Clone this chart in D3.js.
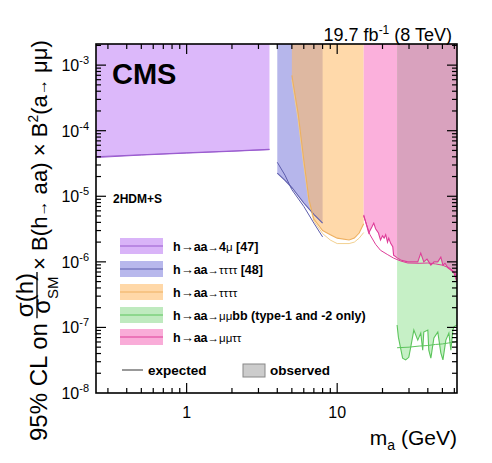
<!DOCTYPE html>
<html><head><meta charset="utf-8">
<script src="https://cdn.jsdelivr.net/npm/d3@7"></script>
<style>
body{margin:0;background:#fff}
svg{display:block}
text{font-family:"Liberation Sans",Arial,Helvetica,sans-serif}
</style>
</head><body>
<svg id="c" width="492" height="463"></svg>
<script>
// ---------- data ----------
const xDomain = [0.25, 62.5];
const yDomain = [1e-8, 2.1e-3];
const xTickLabels = [1, 10];
const yTickExponents = [-8, -7, -6, -5, -4, -3];

// h->aa->4mu [47]
const mass4mu = [0.25, 0.5, 1, 2, 3.55];
const obs4mu  = [4.0e-5, 4.3e-5, 4.6e-5, 4.9e-5, 5.2e-5];
const exp4mu  = [3.9e-5, 4.25e-5, 4.55e-5, 4.85e-5, 5.15e-5];

// h->aa->tautautautau [48]
const massTau48 = [4.0, 4.5, 5.0, 6.0, 7.0, 8.0];
const obsTau48  = [2.26e-5, 1.75e-5, 1.36e-5, 7.9e-6, 5.3e-6, 3.9e-6];
const expTau48  = [3.3e-5, 2.1e-5, 1.26e-5, 7.0e-6, 3.9e-6, 2.4e-6];

// h->aa->tautautautau (this)
const massTau = [5.0, 5.5, 6.0, 6.5, 7.0, 8.0, 9.0, 10.0, 12.0, 13.0, 14.0, 15.0];
const obsTau  = [7.0e-4, 1.85e-4, 3.6e-5, 8.8e-6, 4.5e-6, 3.0e-6, 2.6e-6, 2.3e-6, 2.15e-6, 2.3e-6, 2.75e-6, 3.8e-6];
const expTau  = [6.0e-4, 1.5e-4, 3.0e-5, 8.0e-6, 4.2e-6, 2.7e-6, 2.15e-6, 1.9e-6, 1.9e-6, 2.0e-6, 2.3e-6, 2.8e-6];

// h->aa->mumutautau
const massMuTau = [15, 16.2, 17.0, 17.5, 18.0, 18.8, 19.4, 20.0, 20.5, 21.0, 21.6, 22.0, 22.7, 23.4, 23.7, 25.2, 26.4, 29.4, 34.3, 35.9, 37.6, 39.5, 41.9, 44, 46.6, 48.8, 50.4, 52, 54.4, 56.9, 59.6, 62.5];
const obsMuTau  = [5.2e-6, 2.75e-6, 3.4e-6, 3.9e-6, 3.2e-6, 2.75e-6, 2.15e-6, 2.5e-6, 2.3e-6, 2.6e-6, 2.0e-6, 2.3e-6, 1.9e-6, 1.7e-6, 1.26e-6, 1.14e-6, 1.07e-6, 1.0e-6, 1.0e-6, 1.36e-6, 1.0e-6, 1.1e-6, 8.9e-7, 1.0e-6, 1.0e-6, 1.18e-6, 8.9e-7, 9.5e-7, 8.1e-7, 7.5e-7, 6.8e-7, 4.9e-7];
const massMuTauExp = [15, 16.5, 18, 19.4, 21.5, 23.7, 26.4, 29.4, 35, 40, 45, 50, 56, 60, 62.5];
const expMuTau     = [5.0e-6, 2.6e-6, 1.85e-6, 1.5e-6, 1.3e-6, 1.14e-6, 1.03e-6, 9.6e-7, 9.5e-7, 9.6e-7, 9.3e-7, 8.9e-7, 8.0e-7, 7.0e-7, 5.9e-7];

// h->aa->mumubb (type-1 and -2 only)
const massMuB = [25, 25.5, 27.2, 28.5, 29.9, 30.8, 32.3, 34.3, 35.9, 37.0, 37.6, 40.0, 40.6, 41.9, 43.9, 46.6, 48.8, 50.4, 52.7, 55.2, 56.9, 58.7, 59.6, 62.5];
const obsMuB  = [1.09e-7, 7.1e-8, 3.4e-8, 3.2e-8, 3.5e-8, 5.0e-8, 9.1e-8, 6.4e-8, 8.2e-8, 4.5e-8, 8.5e-8, 9.1e-8, 4.5e-8, 3.4e-8, 6.9e-8, 8.5e-8, 4.1e-8, 3.2e-8, 6.4e-8, 8.2e-8, 4.5e-8, 9.1e-8, 1.02e-7, 1.09e-7];
const massMuBExp = [25, 30, 35, 40, 45, 50, 55, 60, 62.5];
const expMuB     = [4.9e-8, 5.0e-8, 5.2e-8, 5.3e-8, 5.5e-8, 5.6e-8, 5.8e-8, 6.0e-8, 6.2e-8];

const legendLabels = [
  ["h", "→", "aa", "→", "4", "μ", " [47]"],
  ["h", "→", "aa", "→", "ττττ", "", " [48]"],
  ["h", "→", "aa", "→", "ττττ", "", ""],
  ["h", "→", "aa", "→", "μμ", "bb (type-1 and -2 only)", ""],
  ["h", "→", "aa", "→", "μμττ", "", ""]
];

// ---------- styles ----------
const C = {
  purple: {fill: "#dcb8fa", line: "#9a5ccf", box: "#d9b4f8"},
  blue:   {fill: "rgb(110,110,215)", op: 0.5, line: "#5c5cac", box: "#b8b8ec"},
  orange: {fill: "rgb(255,185,100)", op: 0.55, line: "#eeb060", exp: "#f2d090", box: "#ffd8a8"},
  green:  {fill: "#c6f0c6", line: "#5cc45c", box: "#bfeabf"},
  pink:   {fill: "#fbb0dc", line: "#de3c98", box: "#f9acd8"},
  mauve:  "#d9a2be"
};

const L = 96, R = 457, T = 44, B = 393;
const svg = d3.select("#c");
const x = d3.scaleLog().domain(xDomain).range([L, R]);
const y = d3.scaleLog().domain(yDomain).range([B, T]);

const zip = (m, v) => m.map((d, i) => [d, v[i]]);
const area = d3.area().x(d => x(d[0])).y0(T).y1(d => y(d[1]));
const line = d3.line().x(d => x(d[0])).y(d => y(d[1]));

const clip = svg.append("defs").append("clipPath").attr("id", "pc");
clip.append("rect").attr("x", L).attr("y", T).attr("width", R - L).attr("height", B - T);
const plot = svg.append("g").attr("clip-path", "url(#pc)");

// fills
plot.append("path").attr("d", area(zip(mass4mu, obs4mu))).attr("fill", C.purple.fill);
plot.append("path").attr("d", area(zip(massTau48, obsTau48))).attr("fill", C.blue.fill).attr("fill-opacity", C.blue.op);
plot.append("path").attr("d", area(zip(massTau, obsTau))).attr("fill", C.orange.fill).attr("fill-opacity", C.orange.op);
plot.append("path").attr("d", area(zip(massMuTau, obsMuTau))).attr("fill", C.pink.fill);
plot.append("path").attr("d", area(zip(massMuB, obsMuB))).attr("fill", C.green.fill);
// overlap of mumutautau and mumubb exclusions
const muBmin = d3.min(massMuB);
const overlap = zip(massMuTau, obsMuTau).filter(d => d[0] >= muBmin);
overlap.unshift([muBmin, zip(massMuTau, obsMuTau).reduce((a, d) => d[0] <= muBmin ? d[1] : a, obsMuTau[0])]);
plot.append("path").attr("d", area(overlap)).attr("fill", C.mauve);

// expected lines
[
  [zip(mass4mu, exp4mu), C.purple.line],
  [zip(massTau48, expTau48), C.blue.line],
  [zip(massTau, expTau), C.orange.exp],
  [zip(massMuTauExp, expMuTau), C.pink.line],
  [zip(massMuBExp, expMuB), C.green.line]
].forEach(([d, c]) => plot.append("path").attr("d", line(d)).attr("fill", "none").attr("stroke", c).attr("stroke-width", 1));
// observed lines
[
  [zip(mass4mu, obs4mu), C.purple.line],
  [zip(massTau48, obsTau48), C.blue.line],
  [zip(massTau, obsTau), C.orange.line],
  [zip(massMuTau, obsMuTau), C.pink.line],
  [zip(massMuB, obsMuB), C.green.line]
].forEach(([d, c]) => plot.append("path").attr("d", line(d)).attr("fill", "none").attr("stroke", c).attr("stroke-width", 1.1));

// ---------- axes ----------
const ax = svg.append("g").attr("stroke", "#000");
const isMajor = v => Math.abs(Math.log10(v) - Math.round(Math.log10(v))) < 1e-9;
x.ticks().forEach(v => {
  const px = x(v); if (px <= L + 0.5 || px >= R - 0.5) return;
  const len = isMajor(v) ? 10 : 5;
  ax.append("line").attr("x1", px).attr("x2", px).attr("y1", B).attr("y2", B - len).attr("stroke-width", 1.2);
  ax.append("line").attr("x1", px).attr("x2", px).attr("y1", T).attr("y2", T + len).attr("stroke-width", 1.2);
});
y.ticks().forEach(v => {
  const py = y(v); if (py <= T + 0.5 || py >= B - 0.5) return;
  const len = isMajor(v) ? 10 : 5;
  ax.append("line").attr("y1", py).attr("y2", py).attr("x1", L).attr("x2", L + len).attr("stroke-width", 1.2);
  ax.append("line").attr("y1", py).attr("y2", py).attr("x1", R).attr("x2", R - len).attr("stroke-width", 1.2);
});
svg.append("rect").attr("x", L).attr("y", T).attr("width", R - L).attr("height", B - T)
  .attr("fill", "none").attr("stroke", "#000").attr("stroke-width", 1.6);

// tick labels
xTickLabels.forEach(v => {
  svg.append("text").attr("x", x(v)).attr("y", 418).attr("text-anchor", "middle")
    .attr("font-size", 16).text(v);
});
yTickExponents.forEach(e => {
  const t = svg.append("text").attr("x", 89).attr("y", y(Math.pow(10, e)) + 6).attr("text-anchor", "end").attr("font-size", 16);
  t.append("tspan").text("10");
  t.append("tspan").attr("dy", -7).attr("font-size", 11).text(String(e));
});

// x title
const xt = svg.append("text").attr("x", 457).attr("y", 445).attr("text-anchor", "end").attr("font-size", 21);
xt.append("tspan").text("m");
xt.append("tspan").attr("font-size", 14).attr("dy", 5).text("a");
xt.append("tspan").attr("dy", -5).text(" (GeV)");

// y title
const yg = svg.append("g").attr("transform", "translate(47,441) rotate(-90)");
const fs = 24;
const p1 = yg.append("text").attr("x", 0).attr("y", 0).attr("font-size", fs).text("95% CL on");
const w1 = p1.node().getComputedTextLength();
const num = yg.append("text").attr("y", -14).attr("font-size", fs).attr("text-anchor", "middle").text("σ(h)");
const den = yg.append("text").attr("y", 3).attr("font-size", fs).attr("text-anchor", "middle");
den.append("tspan").text("σ");
den.append("tspan").attr("font-size", 15).attr("dy", 8).text("SM");
const fw = Math.max(num.node().getComputedTextLength(), den.node().getComputedTextLength());
const fc = w1 + 6 + fw / 2;
num.attr("x", fc); den.attr("x", fc);
yg.append("line").attr("x1", fc - fw / 2 - 1).attr("x2", fc + fw / 2 + 1).attr("y1", -10).attr("y2", -10).attr("stroke", "#000").attr("stroke-width", 1.3);
const restStart = fc + fw / 2 + 3;
const p2 = yg.append("text").attr("x", restStart).attr("y", 0);
function buildRest(s) {
  p2.selectAll("*").remove();
  p2.attr("font-size", s);
  p2.append("tspan").text(" × B(h");
  p2.append("tspan").attr("font-size", s * 0.72).text("→");
  p2.append("tspan").text(" aa) × B");
  p2.append("tspan").attr("font-size", s * 0.62).attr("dy", -s * 0.42).text("2");
  p2.append("tspan").attr("dy", s * 0.42).text("(a");
  p2.append("tspan").attr("font-size", s * 0.72).text("→");
  p2.append("tspan").text(" μμ)");
}
buildRest(fs);
const avail = 401 - restStart;
const natural = p2.node().getComputedTextLength();
if (natural > avail) buildRest(fs * avail / natural);

// CMS, lumi, model
svg.append("text").attr("x", 112).attr("y", 84).attr("font-size", 29).attr("font-weight", "bold").text("CMS");
const lumi = svg.append("text").attr("x", 452).attr("y", 41).attr("text-anchor", "end").attr("font-size", 18);
lumi.append("tspan").text("19.7 fb");
lumi.append("tspan").attr("font-size", 12).attr("dy", -7).text("-1");
lumi.append("tspan").attr("dy", 7).text(" (8 TeV)");
svg.append("text").attr("x", 113).attr("y", 203).attr("font-size", 12).attr("font-weight", "bold").text("2HDM+S");

// legend
const legColors = [C.purple, C.blue, C.orange, C.green, C.pink];
const legY = [246, 269, 292, 315, 337];
legendLabels.forEach((parts, i) => {
  const c = legColors[i], yy = legY[i];
  svg.append("rect").attr("x", 120).attr("y", yy - 8).attr("width", 43).attr("height", 16).attr("fill", c.box);
  svg.append("line").attr("x1", 120).attr("x2", 163).attr("y1", yy).attr("y2", yy).attr("stroke", c.line).attr("stroke-width", 1);
  const t = svg.append("text").attr("x", 173).attr("y", yy + 4.5).attr("font-size", 12.5);
  const isNum = /[0-9]/.test(parts[4]);
  t.append("tspan").attr("font-weight", "bold").text(parts[0]);
  t.append("tspan").attr("font-size", 13).text(parts[1]);
  t.append("tspan").attr("font-weight", "bold").text(parts[2]);
  t.append("tspan").attr("font-size", 11.5).text(parts[3]);
  t.append("tspan").attr("font-weight", isNum ? "bold" : "normal").attr("font-size", isNum ? 12.5 : 11.5).text(parts[4]);
  if (parts[5]) t.append("tspan").attr("font-weight", parts[5] === "μ" ? "normal" : "bold").attr("font-size", parts[5] === "μ" ? 11.5 : 12.5).text(parts[5]);
  if (parts[6]) t.append("tspan").attr("font-weight", "bold").text(parts[6]);
});
svg.append("line").attr("x1", 122).attr("x2", 143).attr("y1", 370).attr("y2", 370).attr("stroke", "#999").attr("stroke-width", 2);
svg.append("text").attr("x", 148).attr("y", 375).attr("font-size", 13.5).attr("font-weight", "bold").text("expected");
svg.append("rect").attr("x", 243).attr("y", 364).attr("width", 22).attr("height", 13).attr("fill", "#cccccc").attr("stroke", "#888").attr("stroke-width", 1);
svg.append("text").attr("x", 270).attr("y", 375).attr("font-size", 13.5).attr("font-weight", "bold").text("observed");
</script>
</body></html>
